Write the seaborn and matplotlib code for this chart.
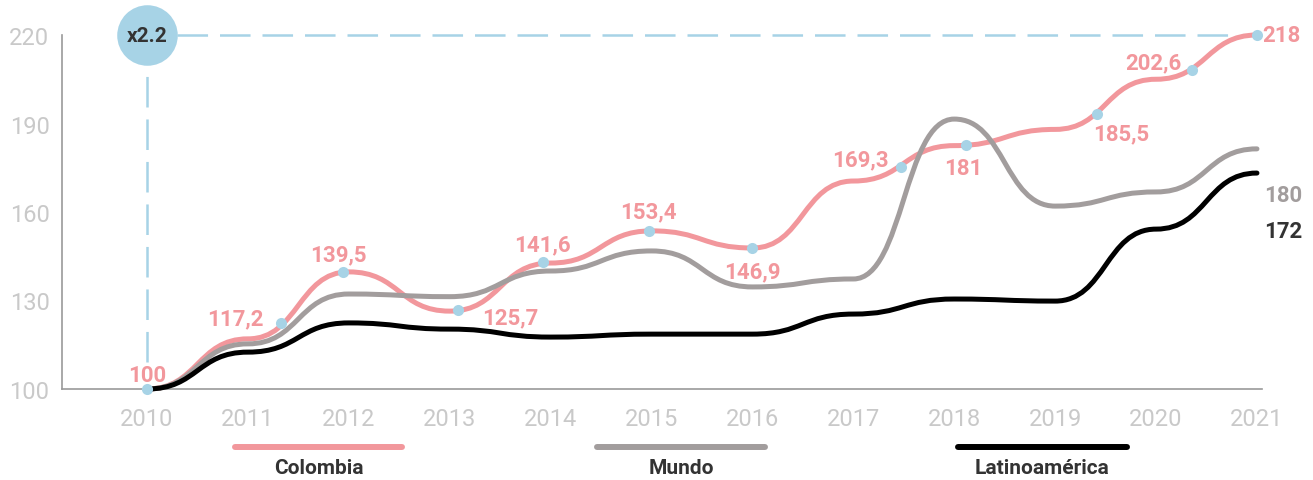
import numpy as np
import pandas as pd
import matplotlib.pyplot as plt
import seaborn as sns
from matplotlib.path import Path
from matplotlib.patches import PathPatch
from matplotlib.lines import Line2D

# values (index, 2010 = 100)
years = list(range(2010, 2022))
colombia = [100, 117, 139.7, 126.4, 142.7, 153.6, 147.8, 170.5, 182.5, 188, 205, 220]
mundo = [100, 115.3, 132.2, 131.3, 140, 146.8, 134.6, 137.3, 191.5, 162, 166.8, 181.4]
latam = [100, 112.5, 122.4, 120.3, 117.6, 118.6, 118.6, 125.4, 130.5, 129.8, 154.2, 173.2]

# highlighted points on the Colombia curve
dot_x = [2010, 2011.33, 2011.94, 2013.08, 2013.92, 2014.97, 2016.0, 2017.47, 2018.12, 2019.41, 2020.36, 2021]
dot_y = [100, 122.4, 139.7, 126.8, 143, 153.6, 147.8, 175.3, 182.7, 193.2, 208, 220]
dot_labels = ['100', '117,2', '139,5', '125,7', '141,6', '153,4', '146,9', '169,3', '181', '185,5', '202,6', '218']
label_off = [(0, 14), (-46, 5), (-4, 18), (52, -7), (0, 18), (0, 20), (0, -23),
             (-40, 8), (-3, -23), (25, -19), (-39, 8), (24, 0)]

series_names = ['Colombia', 'Mundo', 'Latinoamérica']
end_labels = ['218', '180', '172']

PINK = '#f2979c'
GRAY = '#a29d9d'
BLACK = '#000000'
BLUE = '#a7d3e6'
DARK = '#333333'
TICK = '#c9c9c9'

sns.set_style('white')
plt.rcParams['font.family'] = ['Roboto', 'DejaVu Sans']
plt.rcParams['lines.scale_dashes'] = False

fig = plt.figure(figsize=(13.13, 4.81), dpi=100)
ax = fig.add_axes([62 / 1313, 91 / 481, 1200 / 1313, 354 / 481])
ax.set_xlim(2009.157, 2021.05)
ax.set_ylim(100, 220)


def smooth_path(xs, ys, k=0.5):
    verts = [(xs[0], ys[0])]
    codes = [Path.MOVETO]
    for i in range(len(xs) - 1):
        dx = xs[i + 1] - xs[i]
        verts += [(xs[i] + k * dx, ys[i]), (xs[i + 1] - k * dx, ys[i + 1]), (xs[i + 1], ys[i + 1])]
        codes += [Path.CURVE4] * 3
    return Path(verts, codes)


for vals, col, z in [(colombia, PINK, 3), (mundo, GRAY, 4), (latam, BLACK, 5)]:
    ax.add_patch(PathPatch(smooth_path(years, vals), fill=False, ec=col, lw=3.6,
                           capstyle='round', joinstyle='round', zorder=z, clip_on=False))

# dashed guides to the x2.2 bubble
ax.plot([2010, 2010], [109, 209.8], color=BLUE, lw=1.8, dashes=(22, 8.6), zorder=2, clip_on=False)
ax.plot([2010.3, 2020.73], [220, 220], color=BLUE, lw=1.8, dashes=(22, 8.6), zorder=2, clip_on=False)
ax.scatter([2010], [220], s=1900, color=BLUE, zorder=6, clip_on=False, linewidths=0)
ax.text(2010, 220, 'x2.2', ha='center', va='center', fontsize=15, fontweight='bold',
        color=DARK, zorder=7)

dots = pd.DataFrame({'x': dot_x, 'y': dot_y})
sns.scatterplot(data=dots, x='x', y='y', ax=ax, s=64, color=BLUE, linewidth=0,
                zorder=8, clip_on=False, legend=False)

for x, y, lab, off in zip(dot_x, dot_y, dot_labels, label_off):
    ax.annotate(lab, (x, y), xytext=off, textcoords='offset pixels', ha='center', va='center',
                fontsize=16, fontweight='bold', color=PINK, zorder=9, annotation_clip=False)

ax.annotate(end_labels[1], (years[-1], mundo[-1]), xytext=(26, -46), textcoords='offset pixels',
            ha='center', va='center', fontsize=16, fontweight='bold', color=GRAY, annotation_clip=False)
ax.annotate(end_labels[2], (years[-1], latam[-1]), xytext=(26, -58), textcoords='offset pixels',
            ha='center', va='center', fontsize=16, fontweight='bold', color=DARK, annotation_clip=False)

ax.set_xticks(years)
ax.set_xticklabels([str(y) for y in years])
ax.set_yticks([100, 130, 160, 190, 220])
ax.tick_params(axis='both', length=0, labelsize=17, labelcolor=TICK)
ax.tick_params(axis='x', pad=13)
ax.tick_params(axis='y', pad=9)
ax.set_xlabel('')
ax.set_ylabel('')
for side in ['top', 'right']:
    ax.spines[side].set_visible(False)
for side in ['left', 'bottom']:
    ax.spines[side].set_color('#9a9a9a')
    ax.spines[side].set_linewidth(1.2)

# legend under the axis
leg_pos = [(235, 402), (597, 765), (958, 1127)]
for (x0, x1), col, name in zip(leg_pos, [PINK, GRAY, BLACK], series_names):
    fig.add_artist(Line2D([x0 / 1313, x1 / 1313], [1 - 448 / 481] * 2, transform=fig.transFigure,
                          lw=4.3, color=col, solid_capstyle='round'))
    fig.text((x0 + x1) / 2 / 1313, 1 - 469 / 481, name, ha='center', va='center',
             fontsize=15, fontweight='bold', color=DARK)

fig.savefig('out.png', dpi=100)
